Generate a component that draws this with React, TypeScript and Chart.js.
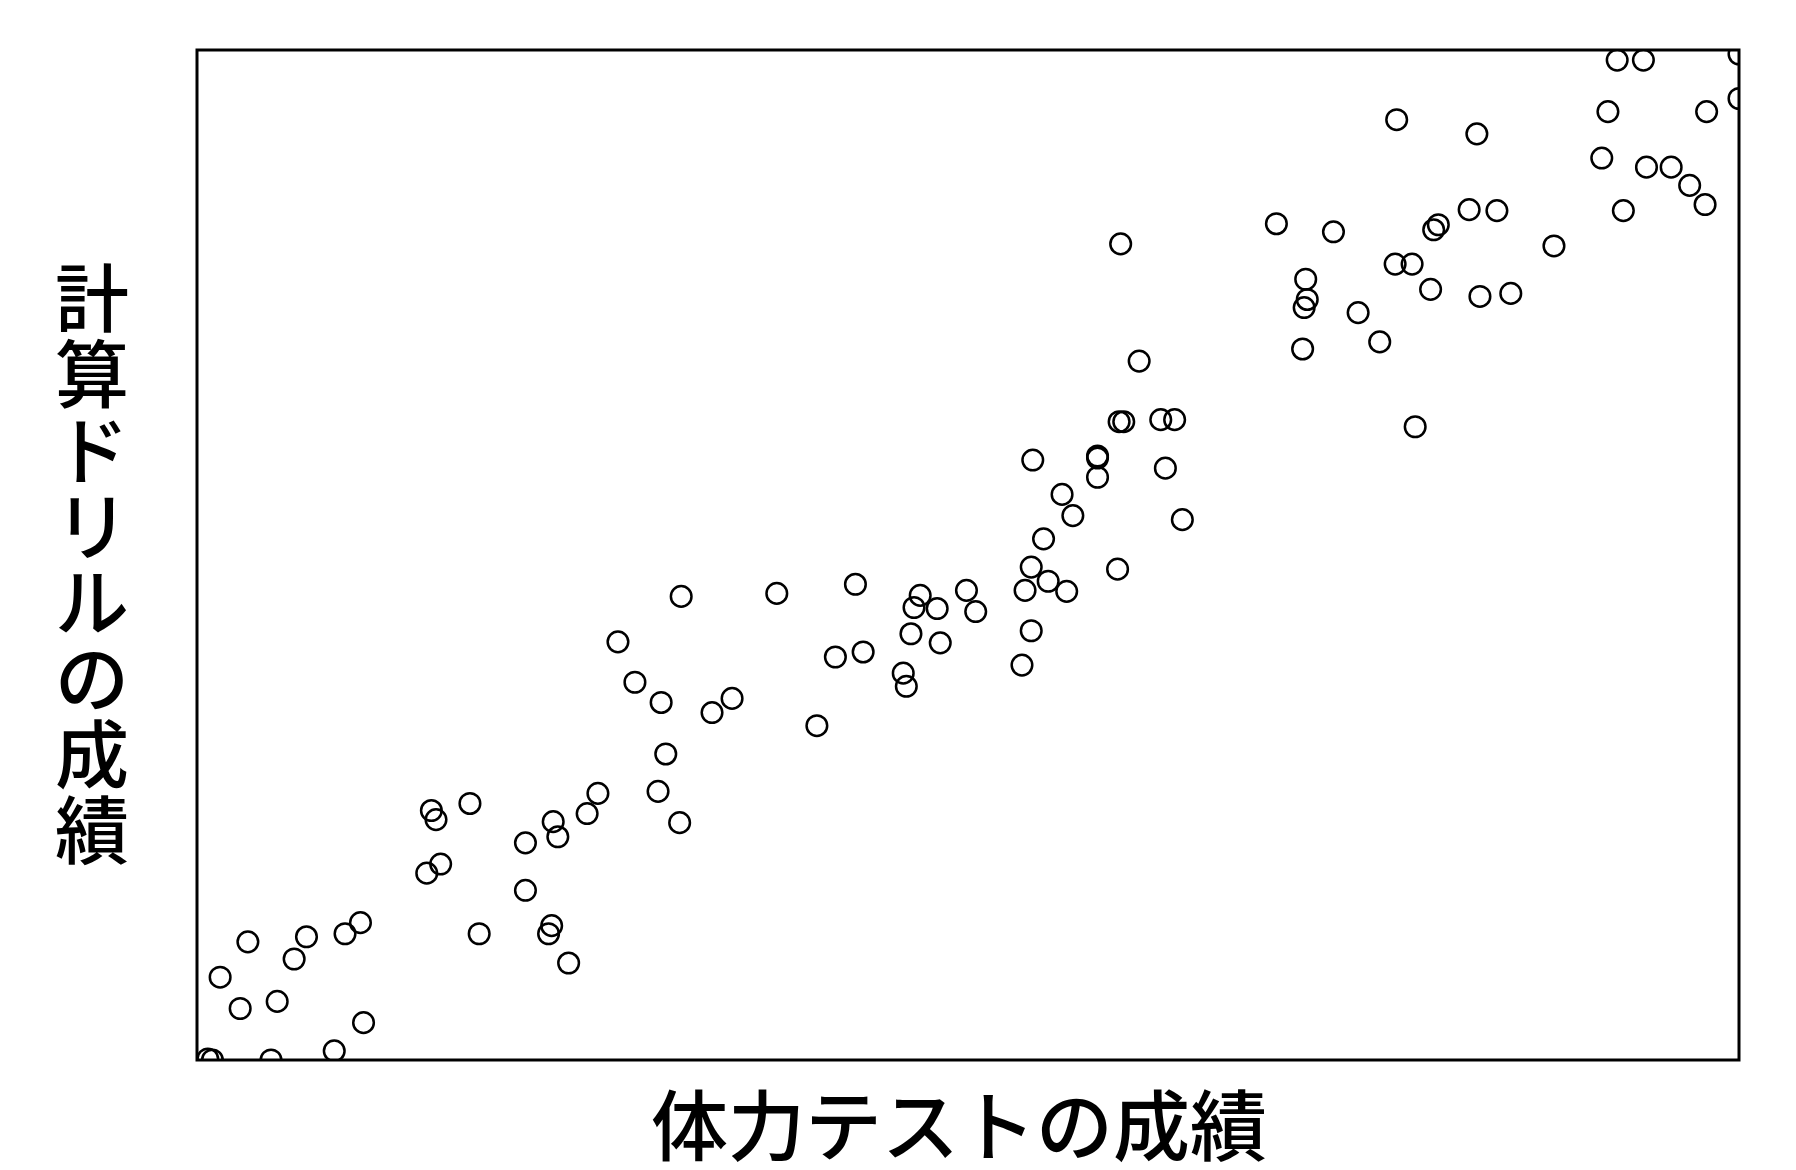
import React, { useEffect, useRef } from "react";
import { Chart, registerables } from "chart.js";

Chart.register(...registerables);

// 体力テストの成績 (x) and 計算ドリルの成績 (y) on a 0–100 scale
const fitnessScores: number[] = [
  92.1, 93.8, 100, 100, 91.5, 97.9, 77.8, 83.0, 91.1, 94.0, 95.6, 96.8, 97.8, 92.5, 82.5, 84.3, 70.0,
  73.7, 80.2, 80.5, 88.0, 77.7, 78.8, 71.9, 72.0, 71.8, 80.0, 83.2, 85.2, 75.3, 71.7, 76.7, 79.0,
  59.9, 61.1, 59.8, 60.1, 62.5, 63.4, 54.2, 58.4, 58.4, 58.4, 62.8, 56.1, 56.8, 63.9, 54.9, 54.1,
  59.7, 53.7, 55.2, 56.4, 54.1, 53.5, 49.9, 50.5, 46.9, 46.5, 48.0, 46.3, 48.2, 45.8, 46.0, 42.7,
  43.2, 41.4, 40.2, 37.6, 34.7, 33.4,
  31.4, 27.3, 28.4, 30.1, 30.4, 29.9, 31.3, 26.0, 25.3, 23.1, 23.4, 21.3, 21.3, 23.0, 22.8, 24.1,
  18.3, 17.7, 15.2, 15.5, 14.9, 15.8, 10.6, 9.6, 7.1, 6.3, 3.3, 1.5, 2.8, 5.2, 10.8, 8.9, 4.8, 0.7, 1.0,
];

const drillScores: number[] = [
  99.0, 99.0, 95.2, 99.6, 93.9, 93.9, 93.1, 91.7, 89.3, 88.4, 88.4, 86.6, 84.7, 84.1, 84.2, 84.1, 82.8,
  82.0, 82.2, 82.7, 80.6, 78.8, 78.8, 77.3, 75.3, 74.5, 76.3, 75.6, 75.9, 74.0, 70.4, 71.1, 62.7,
  80.8, 69.2, 63.2, 63.2, 63.4, 63.4, 59.4, 59.8, 59.6, 57.7, 58.6, 56.0, 53.9, 53.5, 51.6, 48.8,
  48.6, 46.5, 47.4, 46.4, 42.5, 39.1, 46.5, 44.4, 46.0, 44.8, 44.7, 42.2, 41.3, 38.3, 37.0, 47.1,
  40.4, 39.9, 33.1, 46.2, 35.8, 34.4,
  45.9, 41.4, 37.4, 35.4, 30.3, 26.6, 23.5, 26.4, 24.4, 23.6, 22.1, 21.5, 16.8, 13.3, 12.5, 9.6,
  12.5, 25.4, 24.7, 23.8, 18.5, 19.4, 13.6, 12.5, 12.2, 10.0, 11.7, 8.2, 5.1, 5.8, 3.7, 0.9, 0, 0.1, 0,
];

const xTitle = "体力テストの成績";
const yTitle = "計算ドリルの成績";
const axisMin = 0;
const axisMax = 100;

const FONT = '"Noto Sans CJK JP", "Noto Sans CJK SC", sans-serif';

const framePlugin = {
  id: "frameAndTitles",
  afterDraw(chart: any) {
    const { ctx, chartArea } = chart;
    const { left, top, right, bottom } = chartArea;
    ctx.save();
    ctx.strokeStyle = "#000";
    ctx.lineWidth = 3;
    ctx.strokeRect(left, top, right - left, bottom - top);

    ctx.fillStyle = "#000";
    ctx.textAlign = "center";
    ctx.textBaseline = "middle";
    // x title
    ctx.font = `500 77px ${FONT}`;
    ctx.fillText(xTitle, (left + right) / 2 - 9, bottom + 66);
    // y title, vertical upright characters
    ctx.font = `500 74px ${FONT}`;
    const chars = Array.from(yTitle);
    const step = 76;
    const mid = (top + bottom) / 2 + 9;
    const start = mid - ((chars.length - 1) * step) / 2;
    chars.forEach((c, i) => {
      ctx.fillText(c, 92, start + i * step);
    });
    ctx.restore();
  },
};

export default function App() {
  const canvasRef = useRef<HTMLCanvasElement | null>(null);

  useEffect(() => {
    if (!canvasRef.current) return;
    const points = fitnessScores.map((x, i) => ({ x, y: drillScores[i] }));
    const chart = new Chart(canvasRef.current, {
      type: "scatter",
      data: {
        datasets: [
          {
            data: points,
            pointRadius: 10.3,
            pointHoverRadius: 10.3,
            pointBorderWidth: 2.5,
            borderColor: "#000",
            backgroundColor: "rgba(0,0,0,0)",
            pointBackgroundColor: "rgba(0,0,0,0)",
            pointBorderColor: "#000",
            showLine: false,
            clip: 0,
          } as any,
        ],
      },
      options: {
        animation: false,
        responsive: false,
        devicePixelRatio: 1,
        layout: { padding: { left: 197, top: 50, right: 57, bottom: 110 } },
        scales: {
          x: { type: "linear", min: axisMin, max: axisMax, display: false },
          y: { type: "linear", min: axisMin, max: axisMax, display: false },
        },
        plugins: {
          legend: { display: false },
          tooltip: { enabled: false },
        },
      },
      plugins: [framePlugin],
    });
    return () => chart.destroy();
  }, []);

  return (
    <div style={{ position: "absolute", left: 0, top: 0, width: 1796, height: 1170, background: "#fff" }}>
      <canvas ref={canvasRef} width={1796} height={1170} style={{ width: 1796, height: 1170 }} />
    </div>
  );
}
